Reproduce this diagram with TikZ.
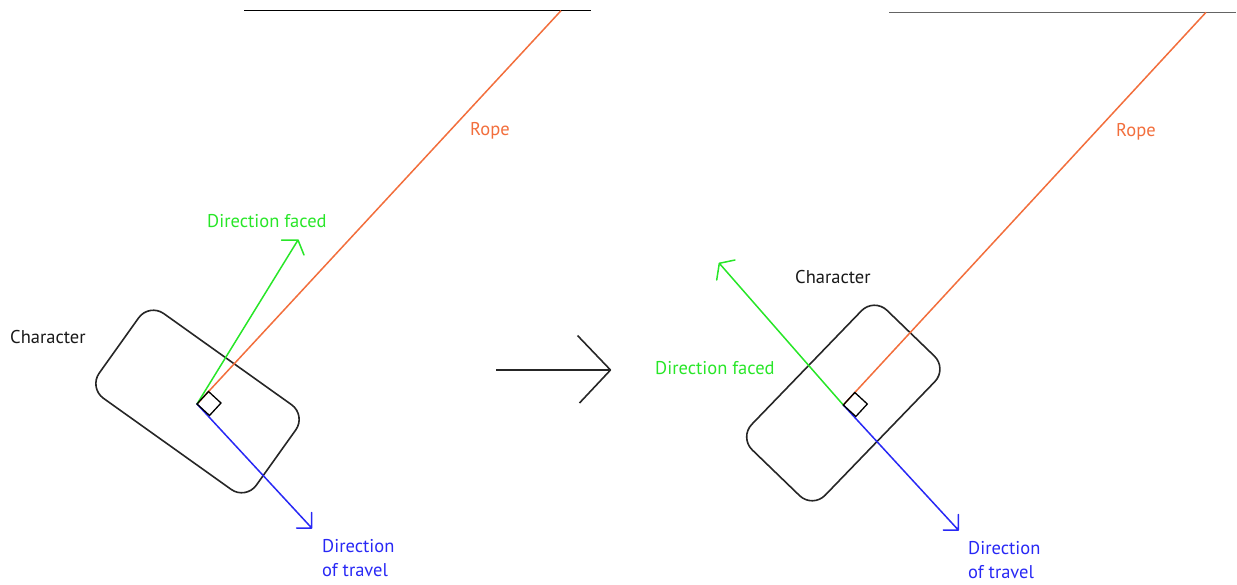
\documentclass[tikz,border=0pt]{standalone}
\usepackage{fontspec}
\setmainfont{PT Sans}
\definecolor{ropec}{RGB}{242,110,60}
\definecolor{facec}{RGB}{40,230,40}
\definecolor{travc}{RGB}{40,40,245}
\definecolor{ceilg}{RGB}{100,100,100}
\begin{document}
\begin{tikzpicture}[x=1pt,y=1pt,
  blk/.style={draw=black,line width=1.5pt},
  ropeline/.style={draw=ropec,line width=1.5pt},
  faceline/.style={draw=facec,line width=1.5pt,line cap=round},
  travline/.style={draw=travc,line width=1.5pt,line cap=round},
  body/.style={draw=black!85,line width=1.6pt,rounded corners=18pt},
  lbl/.style={inner sep=0pt,anchor=west,font=\fontsize{18.5}{22}\selectfont},
  lbltwo/.style={lbl,align=left,anchor=north west,font=\fontsize{18.5}{24}\selectfont}]
\useasboundingbox (0,0) rectangle (1237,-584);

% ---------------- left panel ----------------
\coordinate (cL1) at (244,-10.7);
\coordinate (cL2) at (591,-10.7);
\coordinate (anchorL) at (561,-10.7);
\coordinate (pivL) at (197,-404);
\coordinate (faceL) at (298,-240);
\coordinate (travL) at (311.7,-528);
\draw[blk] (cL1) -- (cL2);
\begin{scope}[shift={(197.5,-401.5)},rotate=-35.5]
  \draw[body] (-96.5,-52) rectangle (96.5,52);
\end{scope}
\draw[ropeline] (pivL) -- (anchorL);
\draw[faceline] (pivL) -- (faceL) (faceL) -- ++(-16.5,0) (faceL) -- ++(6,-15);
\draw[travline] (pivL) -- (travL) (travL) -- ++(-15,0) (travL) -- ++(0,15.5);
\draw[draw=black,line width=1.3pt] (pivL) -- ++(11.5,12.5) -- ++(12.5,-11.5) -- ++(-11.5,-12.5) -- cycle;

\node[lbl,text=black!90] (charL) at (10,-337) {Character};
\node[lbl,text=ropec] (ropeL) at (470,-131) {Rope};
\node[lbl,text=facec] (faceLbl) at (207,-221) {Direction faced};
\node[lbltwo,text=travc] (travLbl) at (322,-539) {Direction\\of travel};

% ---------------- middle arrow ----------------
\coordinate (mA) at (496,-370);
\coordinate (mB) at (610.5,-370);
\draw[draw=black!85,line width=1.6pt] (mA) -- (mB) (mB) -- ++(-33,34.5) (mB) -- ++(-31,-33);

% ---------------- right panel ----------------
\coordinate (cR1) at (889,-12.3);
\coordinate (cR2) at (1236,-12.3);
\coordinate (anchorR) at (1206,-12.3);
\coordinate (pivR) at (843.3,-405);
\coordinate (faceR) at (719.3,-263.3);
\coordinate (travR) at (958.3,-530);
\draw[draw=ceilg,line width=1.6pt] (cR1) -- (cR2);
\begin{scope}[shift={(843.3,-403)},rotate=46]
  \draw[body] (-97,-51) rectangle (97,51);
\end{scope}
\draw[ropeline] (pivR) -- (anchorR);
\draw[faceline] (pivR) -- (faceR) (faceR) -- ++(15.7,3.3) (faceR) -- ++(-2.6,-16.7);
\draw[travline] (pivR) -- (travR) (travR) -- ++(-15,0) (travR) -- ++(0,15.5);
\draw[draw=black,line width=1.3pt] (pivR) -- ++(11.5,12.5) -- ++(12.5,-11.5) -- ++(-11.5,-12.5) -- cycle;

\node[lbl,text=black!90] (charR) at (795,-277) {Character};
\node[lbl,text=ropec] (ropeR) at (1116,-132) {Rope};
\node[lbl,text=facec] (faceLblR) at (655,-368) {Direction faced};
\node[lbltwo,text=travc] (travLblR) at (968,-541) {Direction\\of travel};
\end{tikzpicture}
\end{document}
